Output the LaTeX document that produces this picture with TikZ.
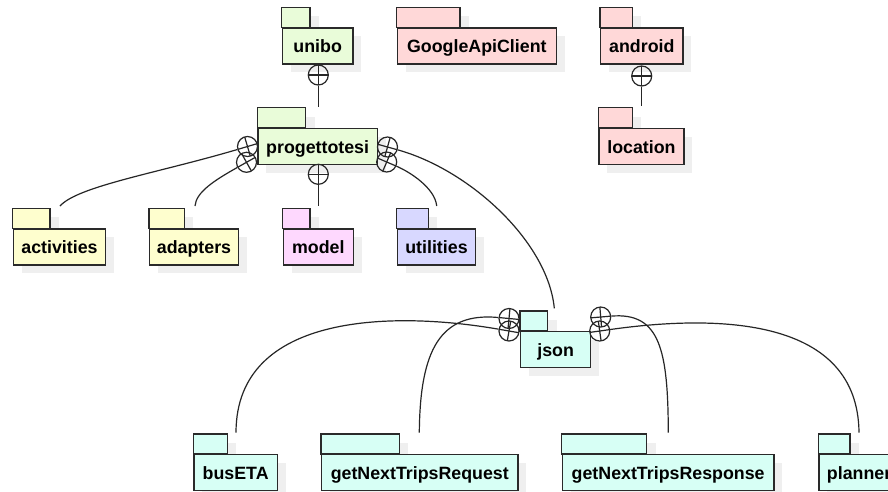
\documentclass[tikz,border=0pt]{standalone}
\usepackage{fontspec}
\setmainfont{Liberation Sans}
\usetikzlibrary{calc}
\definecolor{pkgGreen}{HTML}{E9FCD9}
\definecolor{pkgYellow}{HTML}{FEFECE}
\definecolor{pkgPink}{HTML}{FED8FE}
\definecolor{pkgLav}{HTML}{D8D8FF}
\definecolor{pkgRed}{HTML}{FFD8D8}
\definecolor{pkgCyan}{HTML}{D7FFF5}
\definecolor{pkgBorder}{HTML}{2A2A2A}
\definecolor{pkgShadow}{HTML}{EFEFEF}
\tikzset{
  pkgline/.style={draw=pkgBorder,line width=1.3pt},
  pkgbody/.style={pkgline,rectangle,minimum height=36pt,inner sep=0pt,
    text height=14pt,text depth=0pt,align=center,
    font=\fontsize{17.8}{20}\selectfont\bfseries},
  pkgshade/.style={fill=pkgShadow},
  conn/.style={draw=black!85,line width=1.2pt},
  nestcirc/.style={circle,draw=black!85,line width=1.2pt,minimum size=20pt,inner sep=0pt}
}
\newcommand\umlpkg[7]{%
  \fill[pkgshade] ({#2+9},{#4+9}) rectangle ({#5+9},{#4+29});
  \fill[pkgshade] ({#2+9},{#4+29}) rectangle ({#3+9},{#4+65});
  \draw[pkgline,fill=#6] (#2,#4) rectangle (#5,{#4+20});
  \node[pkgbody,fill=#6,minimum width={(#3-#2)*1pt},anchor=north west] (#1) at (#2,{#4+20}) {#7};
}
\newcommand\nestconn[4]{%
  \draw[conn] (#1) .. controls #2 and #3 .. (#4);
  \draw[conn] ($(#1)!10pt!#2$) -- ($(#1)!-10pt!#2$);
  \draw[conn] ($(#1)!10pt!90:#2$) -- ($(#1)!10pt!-90:#2$);
}
\begin{document}
\begin{tikzpicture}[x=1pt,y=-1pt]
\clip (0,0) rectangle (888,491);
\fill[white] (0,0) rectangle (888,491);
% packages
\umlpkg{unibo}{281.7}{352.3}{7.3}{310}{pkgGreen}{unibo}
\umlpkg{gac}{396.7}{555.7}{7.3}{460}{pkgRed}{GoogleApiClient}
\umlpkg{android}{600}{682.3}{7.3}{632.3}{pkgRed}{android}
\umlpkg{prog}{257.3}{376.7}{107.7}{305.7}{pkgGreen}{progettotesi}
\umlpkg{location}{598.3}{683.3}{107.7}{632.3}{pkgRed}{location}
\umlpkg{activities}{12.7}{105}{208.3}{50}{pkgYellow}{activities}
\umlpkg{adapters}{149}{237.7}{208.3}{184.3}{pkgYellow}{adapters}
\umlpkg{model}{282.7}{352.7}{208.3}{310}{pkgPink}{model}
\umlpkg{utilities}{396.7}{475}{208.3}{428.3}{pkgLav}{utilities}
\umlpkg{json}{520}{590}{311}{547.7}{pkgCyan}{json}
\umlpkg{busETA}{193.3}{276.7}{434}{227.3}{pkgCyan}{busETA}
\umlpkg{req}{321}{517.3}{434}{399.3}{pkgCyan}{getNextTripsRequest}
\umlpkg{res}{561.7}{773.3}{434}{646.7}{pkgCyan}{getNextTripsResponse}
\umlpkg{planner}{818.3}{898.6}{434}{850}{pkgCyan}{planner}
% connector end points
\coordinate (ue) at (318.3,107);
\coordinate (me) at (318.3,206);
\coordinate (le) at (641.7,106);
\coordinate (acte) at (60,206);
\coordinate (adae) at (195,206);
\coordinate (utile) at (436.7,206);
\coordinate (jsone) at (554.3,308.3);
\coordinate (reqe) at (419.3,432.7);
\coordinate (buse) at (236,432.7);
\coordinate (rese) at (668.3,432.7);
\coordinate (plae) at (859,432.7);
% nesting circles
\node[nestcirc] (cu) at (318.3,75) {};
\node[nestcirc] (cm) at (318.3,174.3) {};
\node[nestcirc] (ca) at (641.7,76) {};
\node[nestcirc] (pl1) at (247.5,146.5) {};
\node[nestcirc] (pl2) at (246.5,162.3) {};
\node[nestcirc] (pr1) at (387.5,147) {};
\node[nestcirc] (pr2) at (386.7,162) {};
\node[nestcirc] (jl1) at (509,318.5) {};
\node[nestcirc] (jl2) at (509,331) {};
\node[nestcirc] (jr1) at (600.7,317) {};
\node[nestcirc] (jr2) at (599.7,331) {};
% connectors
\nestconn{cu}{(318.3,90)}{(318.3,100)}{ue}
\nestconn{cm}{(318.3,190)}{(318.3,200)}{me}
\nestconn{ca}{(641.7,90)}{(641.7,100)}{le}
\nestconn{pl1}{(158,173)}{(78,186)}{acte}
\nestconn{pl2}{(215,180)}{(196,192)}{adae}
\nestconn{pr1}{(470,170)}{(548,242)}{jsone}
\nestconn{pr2}{(410,172)}{(435,188)}{utile}
\nestconn{jl1}{(440,312)}{(420,350)}{reqe}
\nestconn{jl2}{(400,312)}{(236,310)}{buse}
\nestconn{jr1}{(660,312)}{(668,350)}{rese}
\nestconn{jr2}{(720,314)}{(858,318)}{plae}
\end{tikzpicture}
\end{document}
